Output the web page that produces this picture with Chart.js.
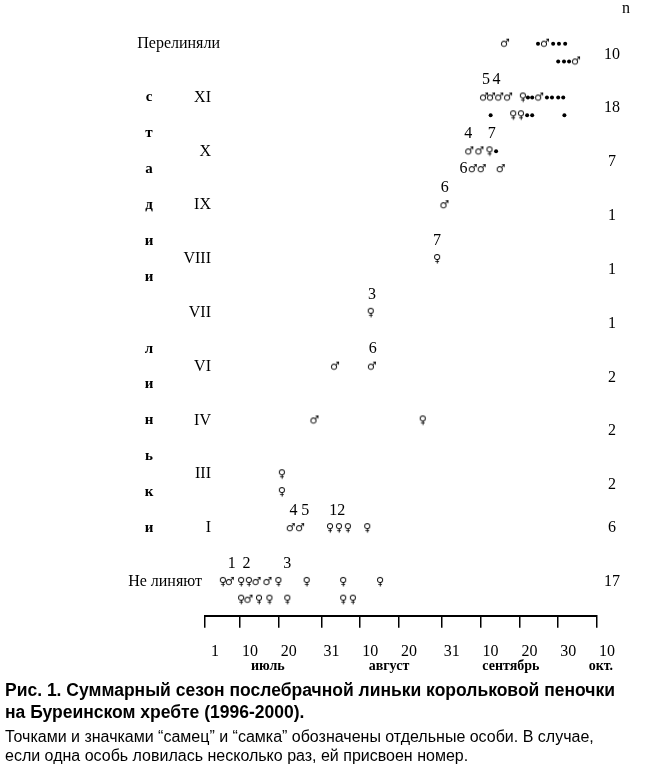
<!DOCTYPE html>
<html lang="ru">
<head>
<meta charset="utf-8">
<script src="https://cdn.jsdelivr.net/npm/chart.js@4.4.1/dist/chart.umd.min.js"></script>
<style>
    body { margin: 0; background: #fff; width: 647px; height: 768px; overflow: hidden; }
    #wrap { position: absolute; left: 0; top: 0; width: 647px; height: 690px; }
    .caption { position: absolute; left: 5px; font-family: "Liberation Sans", Arial, sans-serif; color: #000; white-space: nowrap; }
    .title { top: 679px; font-weight: bold; font-size: 17.5px; line-height: 22px; }
    .note { top: 727px; font-size: 16px; line-height: 19px; }
</style>
</head>
<body>
<div id="wrap"><canvas id="grafico" width="647" height="690"></canvas></div>
<div class="caption title">Рис. 1. Суммарный сезон послебрачной линьки корольковой пеночки<br>на Буреинском хребте (1996-2000).</div>
<div class="caption note">Точками и значками “самец” и “самка” обозначены отдельные особи. В случае,<br>если одна особь ловилась несколько раз, ей присвоен номер.</div>
<script>
const stages = ["Не линяют", "I", "III", "IV", "VI", "VII", "VIII", "IX", "X", "XI", "Перелиняли"];
const counts = [17, 6, 2, 2, 2, 1, 1, 1, 7, 18, 10];
const tickDays = [0, 9, 19, 30, 40, 50, 61, 71, 81, 91, 101];
const tickLabels = ["1", "10", "20", "31", "10", "20", "31", "10", "20", "30", "10"];
const months = ["июль", "август", "сентябрь", "окт."];
const monthDays = [16.2, 47.4, 78.8, 102];

// [день от 1 июля, стадия, ряд]
const males = [
    [6.4, 0, 0], [13.3, 0, 0], [16.1, 0, 0], [11.2, 0, 1],
    [22.1, 1, 0], [24.5, 1, 0],
    [28.2, 3, 0],
    [33.5, 4, 0], [43.0, 4, 0],
    [61.7, 7, 0],
    [68.1, 8, 0], [70.7, 8, 0], [69.0, 8, 1], [71.3, 8, 1], [76.2, 8, 1],
    [71.9, 9, 0], [73.7, 9, 0], [75.8, 9, 0], [78.1, 9, 0], [86.1, 9, 0],
    [77.3, 10, 0], [87.6, 10, 0], [95.6, 10, 1]
];
const females = [
    [4.6, 0, 0], [9.3, 0, 0], [11.3, 0, 0], [18.9, 0, 0], [26.2, 0, 0], [35.6, 0, 0], [45.1, 0, 0],
    [9.3, 0, 1], [13.9, 0, 1], [16.6, 0, 1], [21.2, 0, 1], [35.6, 0, 1], [38.1, 0, 1],
    [32.2, 1, 0], [34.5, 1, 0], [36.8, 1, 0], [41.8, 1, 0],
    [19.8, 2, 0], [19.8, 2, 1],
    [56.1, 3, 0],
    [42.7, 5, 0],
    [59.8, 6, 0],
    [73.3, 8, 0],
    [81.9, 9, 0], [79.4, 9, 1], [81.4, 9, 1]
];
const unsexed = [
    [75.0, 8, 0],
    [83.2, 9, 0], [84.3, 9, 0], [88.1, 9, 0], [89.4, 9, 0], [91.0, 9, 0], [92.3, 9, 0],
    [73.6, 9, 1], [83.0, 9, 1], [84.3, 9, 1], [92.6, 9, 1],
    [85.8, 10, 0], [89.7, 10, 0], [91.2, 10, 0], [92.8, 10, 0],
    [91.0, 10, 1], [92.5, 10, 1], [93.8, 10, 1]
];
// номера особей: [день, стадия, ряд (-1 над рядом), номер]
const birdIds = [
    [6.9, 0, -1, "1"], [10.7, 0, -1, "2"], [21.2, 0, -1, "3"],
    [22.8, 1, -1, "4"], [25.8, 1, -1, "5"], [34.1, 1, -1, "12"],
    [43.2, 4, -1, "6"], [43.0, 5, -1, "3"], [59.8, 6, -1, "7"], [61.8, 7, -1, "6"],
    [67.8, 8, -1, "4"], [73.9, 8, -1, "7"], [66.6, 8, 1, "6"],
    [72.4, 9, -1, "5"], [75.1, 9, -1, "4"]
];

const ROW = 0.33;
const SERIF = "'Liberation Serif', 'Times New Roman', serif";

function pontos(lista) {
    return lista.map(p => ({ x: p[0], y: p[1] - p[2] * ROW }));
}

function simbolo(ch) {
    const c = document.createElement("canvas");
    c.width = 12;
    c.height = 14;
    const g = c.getContext("2d");
    g.font = "bold 11px 'DejaVu Sans'";
    g.textAlign = "center";
    g.textBaseline = "middle";
    g.fillStyle = "#000";
    g.fillText(ch, 6, 7);
    return c;
}

const textos = {
    id: "textos",
    afterDraw(chart) {
        const ctx = chart.ctx;
        const x = chart.scales.x;
        const y = chart.scales.y;
        const esq = chart.chartArea.left;
        ctx.save();
        ctx.fillStyle = "#000";
        ctx.textBaseline = "middle";

        ctx.font = "16px " + SERIF;
        stages.forEach((nome, i) => {
            let px = esq + 6;
            if (i === 0) px = esq - 3;
            if (i === stages.length - 1) px = esq + 15;
            ctx.textAlign = "right";
            ctx.fillText(nome, px, y.getPixelForValue(i));
        });

        ctx.textAlign = "center";
        counts.forEach((n, i) => {
            const off = i < 2 ? 0 : 0.2;
            ctx.fillText(String(n), 612, y.getPixelForValue(i - off));
        });
        ctx.fillText("n", 626, 9);

        ctx.font = "bold 15px " + SERIF;
        const letras = "стадии линьки".split("");
        const topo = y.getPixelForValue(9);
        const base = y.getPixelForValue(1);
        letras.forEach((l, i) => {
            ctx.fillText(l, 149, topo + (base - topo) * i / (letras.length - 1));
        });

        ctx.font = "16px " + SERIF;
        birdIds.forEach(b => {
            ctx.fillText(b[3], x.getPixelForValue(b[0]), y.getPixelForValue(b[1] - b[2] * ROW));
        });

        ctx.font = "bold 14px " + SERIF;
        months.forEach((m, i) => {
            ctx.fillText(m, x.getPixelForValue(monthDays[i]), 666);
        });
        ctx.restore();
    }
};

new Chart(document.getElementById("grafico"), {
    type: "scatter",
    data: {
        datasets: [
            { label: "самец", data: pontos(males), pointStyle: simbolo("♂"), pointRadius: 5 },
            { label: "самка", data: pontos(females), pointStyle: simbolo("♀"), pointRadius: 5 },
            { label: "особь", data: pontos(unsexed), pointStyle: "circle", pointRadius: 2, backgroundColor: "#000", borderWidth: 0 }
        ]
    },
    options: {
        responsive: false,
        animation: false,
        layout: { padding: { left: 205, right: 50, top: 5, bottom: 15 } },
        plugins: { legend: { display: false }, tooltip: { enabled: false } },
        scales: {
            x: {
                type: "linear",
                min: 0,
                max: 101,
                afterBuildTicks: scale => { scale.ticks = tickDays.map(v => ({ value: v })); },
                ticks: {
                    color: "#000",
                    font: { family: SERIF, size: 16 },
                    padding: 14,
                    labelOffset: 10,
                    maxRotation: 0,
                    autoSkip: false,
                    callback: (v, i) => tickLabels[i]
                },
                grid: { drawOnChartArea: false, drawTicks: true, tickLength: 12, color: "#000", lineWidth: 1.5 },
                border: { display: true, color: "#000", width: 2 }
            },
            y: {
                type: "linear",
                display: false,
                min: -0.63,
                max: 10.7
            }
        }
    },
    plugins: [textos]
});
</script>
</body>
</html>
